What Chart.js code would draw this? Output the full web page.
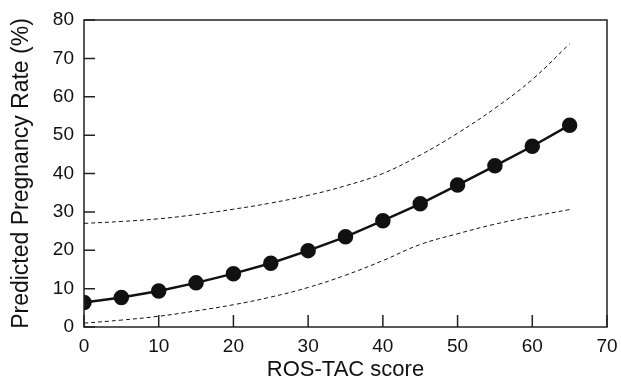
<!DOCTYPE html>
<html>
<head>
<meta charset="utf-8">
<script src="https://cdn.jsdelivr.net/npm/chart.js@4.4.1/dist/chart.umd.min.js"></script>
<style>
  html, body { margin: 0; padding: 0; background: #fff; }
  #wrap { width: 621px; height: 385px; }
</style>
</head>
<body>
<div id="wrap"><canvas id="chart"></canvas></div>
<script>
const scores = [0, 5, 10, 15, 20, 25, 30, 35, 40, 45, 50, 55, 60, 65];
const predicted = [6.4, 7.7, 9.4, 11.5, 13.9, 16.6, 19.9, 23.5, 27.7, 32.1, 37.0, 42.0, 47.1, 52.6];
const upperCI = [27.0, 27.5, 28.2, 29.3, 30.7, 32.3, 34.3, 36.8, 40.0, 44.8, 50.5, 57.0, 64.5, 73.8];
const lowerCI = [1.0, 1.8, 2.8, 4.2, 5.8, 7.8, 10.3, 13.5, 17.3, 21.5, 24.3, 26.8, 28.8, 30.6];
const xTicks = [0, 10, 20, 30, 40, 50, 60, 70];
const yTicks = [0, 10, 20, 30, 40, 50, 60, 70, 80];

const ink = "#111";
const font = "'Liberation Sans', Arial, sans-serif";

function toPoints(vals) {
    return scores.map((s, i) => ({ x: s, y: vals[i] }));
}

// frame + inward tick marks
const frameTicks = {
    id: "frameTicks",
    afterDraw(chart) {
        const ctx = chart.ctx;
        const a = chart.chartArea;
        const xs = chart.scales.x;
        const ys = chart.scales.y;
        ctx.save();
        ctx.strokeStyle = "#222";
        ctx.lineWidth = 1.5;
        ctx.strokeRect(a.left, a.top, a.right - a.left, a.bottom - a.top);
        ctx.beginPath();
        xTicks.forEach(v => {
            const px = xs.getPixelForValue(v);
            ctx.moveTo(px, a.bottom);
            ctx.lineTo(px, a.bottom - 12);
        });
        yTicks.forEach(v => {
            const py = ys.getPixelForValue(v);
            ctx.moveTo(a.left, py);
            ctx.lineTo(a.left + 11, py);
        });
        ctx.stroke();
        ctx.restore();
    }
};

new Chart(document.getElementById("chart"), {
    type: "line",
    data: {
        datasets: [
            {
                label: "Predicted",
                data: toPoints(predicted),
                borderColor: ink,
                backgroundColor: ink,
                borderWidth: 2.5,
                pointRadius: 6.5,
                pointHoverRadius: 6.5,
                tension: 0
            },
            {
                label: "Upper",
                data: toPoints(upperCI),
                borderColor: ink,
                borderWidth: 1,
                borderDash: [4, 3],
                pointRadius: 0,
                tension: 0.4
            },
            {
                label: "Lower",
                data: toPoints(lowerCI),
                borderColor: ink,
                borderWidth: 1,
                borderDash: [4, 3],
                pointRadius: 0,
                tension: 0.4
            }
        ]
    },
    options: {
        responsive: true,
        maintainAspectRatio: false,
        animation: false,
        layout: { padding: { top: 20, right: 14, left: 0, bottom: 0 } },
        plugins: {
            legend: { display: false },
            tooltip: { enabled: false }
        },
        scales: {
            x: {
                type: "linear",
                min: 0,
                max: 70,
                grid: { display: false, drawTicks: false },
                border: { display: false },
                afterBuildTicks: s => { s.ticks = xTicks.map(v => ({ value: v })); },
                afterFit: s => { s.height = 58; s.paddingLeft = 0; s.paddingRight = 0; },
                ticks: { color: ink, font: { family: font, size: 19 }, padding: 8, maxRotation: 0 },
                title: {
                    display: true,
                    text: "ROS-TAC score",
                    color: ink,
                    font: { family: font, size: 22 },
                    padding: { top: 4, bottom: 2 }
                }
            },
            y: {
                min: 0,
                max: 80,
                grid: { display: false, drawTicks: false },
                border: { display: false },
                afterBuildTicks: s => { s.ticks = yTicks.map(v => ({ value: v })); },
                afterFit: s => { s.width = 84; s.paddingTop = 0; s.paddingBottom = 0; },
                ticks: { color: ink, font: { family: font, size: 19 }, padding: 10 },
                title: {
                    display: true,
                    text: "Predicted Pregnancy Rate (%)",
                    color: ink,
                    font: { family: font, size: 23 },
                    padding: { top: 8, bottom: 8 }
                }
            }
        }
    },
    plugins: [frameTicks]
});
</script>
</body>
</html>
